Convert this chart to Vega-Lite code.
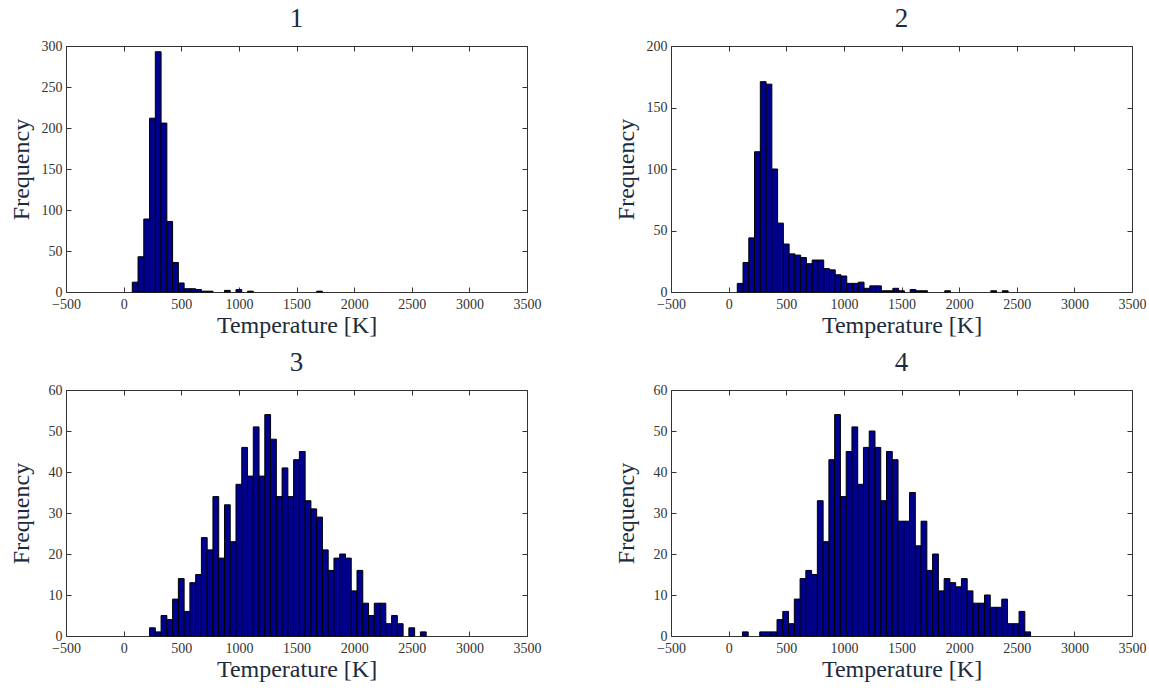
{
  "$schema": "https://vega.github.io/schema/vega-lite/v6.json",
  "background": "white",
  "padding": {"left": 9, "top": 5, "right": 5, "bottom": 5},
  "datasets": {
    "p1": [
      {"lo": 75, "hi": 125, "n": 12}, {"lo": 125, "hi": 175, "n": 43}, {"lo": 175, "hi": 225, "n": 89},
      {"lo": 225, "hi": 275, "n": 212}, {"lo": 275, "hi": 325, "n": 293}, {"lo": 325, "hi": 375, "n": 206},
      {"lo": 375, "hi": 425, "n": 86}, {"lo": 425, "hi": 475, "n": 36}, {"lo": 475, "hi": 525, "n": 11},
      {"lo": 525, "hi": 575, "n": 4}, {"lo": 575, "hi": 625, "n": 4}, {"lo": 625, "hi": 675, "n": 3},
      {"lo": 675, "hi": 725, "n": 1}, {"lo": 725, "hi": 775, "n": 1}, {"lo": 875, "hi": 925, "n": 2},
      {"lo": 975, "hi": 1025, "n": 3}, {"lo": 1075, "hi": 1125, "n": 1}, {"lo": 1675, "hi": 1725, "n": 1}
    ],
    "p2": [
      {"lo": 75, "hi": 125, "n": 7}, {"lo": 125, "hi": 175, "n": 24}, {"lo": 175, "hi": 225, "n": 44},
      {"lo": 225, "hi": 275, "n": 114}, {"lo": 275, "hi": 325, "n": 171}, {"lo": 325, "hi": 375, "n": 169},
      {"lo": 375, "hi": 425, "n": 100}, {"lo": 425, "hi": 475, "n": 56}, {"lo": 475, "hi": 525, "n": 39},
      {"lo": 525, "hi": 575, "n": 31}, {"lo": 575, "hi": 625, "n": 30}, {"lo": 625, "hi": 675, "n": 28},
      {"lo": 675, "hi": 725, "n": 23}, {"lo": 725, "hi": 775, "n": 26}, {"lo": 775, "hi": 825, "n": 26},
      {"lo": 825, "hi": 875, "n": 19}, {"lo": 875, "hi": 925, "n": 18}, {"lo": 925, "hi": 975, "n": 14},
      {"lo": 975, "hi": 1025, "n": 13}, {"lo": 1025, "hi": 1075, "n": 7}, {"lo": 1075, "hi": 1125, "n": 7},
      {"lo": 1125, "hi": 1175, "n": 8}, {"lo": 1175, "hi": 1225, "n": 3}, {"lo": 1225, "hi": 1275, "n": 5},
      {"lo": 1275, "hi": 1325, "n": 5}, {"lo": 1325, "hi": 1375, "n": 1}, {"lo": 1375, "hi": 1425, "n": 1},
      {"lo": 1425, "hi": 1475, "n": 3}, {"lo": 1475, "hi": 1525, "n": 1}, {"lo": 1575, "hi": 1625, "n": 2},
      {"lo": 1625, "hi": 1675, "n": 1}, {"lo": 1675, "hi": 1725, "n": 1}, {"lo": 1875, "hi": 1925, "n": 1},
      {"lo": 2275, "hi": 2325, "n": 1}, {"lo": 2375, "hi": 2425, "n": 1}
    ],
    "p3": [
      {"lo": 225, "hi": 275, "n": 2}, {"lo": 275, "hi": 325, "n": 1}, {"lo": 325, "hi": 375, "n": 5},
      {"lo": 375, "hi": 425, "n": 4}, {"lo": 425, "hi": 475, "n": 9}, {"lo": 475, "hi": 525, "n": 14},
      {"lo": 525, "hi": 575, "n": 6}, {"lo": 575, "hi": 625, "n": 13}, {"lo": 625, "hi": 675, "n": 15},
      {"lo": 675, "hi": 725, "n": 24}, {"lo": 725, "hi": 775, "n": 21}, {"lo": 775, "hi": 825, "n": 34},
      {"lo": 825, "hi": 875, "n": 19}, {"lo": 875, "hi": 925, "n": 32}, {"lo": 925, "hi": 975, "n": 23},
      {"lo": 975, "hi": 1025, "n": 37}, {"lo": 1025, "hi": 1075, "n": 46}, {"lo": 1075, "hi": 1125, "n": 39},
      {"lo": 1125, "hi": 1175, "n": 51}, {"lo": 1175, "hi": 1225, "n": 39}, {"lo": 1225, "hi": 1275, "n": 54},
      {"lo": 1275, "hi": 1325, "n": 48}, {"lo": 1325, "hi": 1375, "n": 34}, {"lo": 1375, "hi": 1425, "n": 41},
      {"lo": 1425, "hi": 1475, "n": 34}, {"lo": 1475, "hi": 1525, "n": 43}, {"lo": 1525, "hi": 1575, "n": 45},
      {"lo": 1575, "hi": 1625, "n": 33}, {"lo": 1625, "hi": 1675, "n": 31}, {"lo": 1675, "hi": 1725, "n": 29},
      {"lo": 1725, "hi": 1775, "n": 21}, {"lo": 1775, "hi": 1825, "n": 16}, {"lo": 1825, "hi": 1875, "n": 19},
      {"lo": 1875, "hi": 1925, "n": 20}, {"lo": 1925, "hi": 1975, "n": 19}, {"lo": 1975, "hi": 2025, "n": 11},
      {"lo": 2025, "hi": 2075, "n": 16}, {"lo": 2075, "hi": 2125, "n": 8}, {"lo": 2125, "hi": 2175, "n": 5},
      {"lo": 2175, "hi": 2225, "n": 8}, {"lo": 2225, "hi": 2275, "n": 8}, {"lo": 2275, "hi": 2325, "n": 3},
      {"lo": 2325, "hi": 2375, "n": 5}, {"lo": 2375, "hi": 2425, "n": 3}, {"lo": 2475, "hi": 2525, "n": 2},
      {"lo": 2575, "hi": 2625, "n": 1}
    ],
    "p4": [
      {"lo": 120, "hi": 170, "n": 1}, {"lo": 270, "hi": 320, "n": 1}, {"lo": 320, "hi": 370, "n": 1},
      {"lo": 370, "hi": 420, "n": 1}, {"lo": 420, "hi": 470, "n": 4}, {"lo": 470, "hi": 520, "n": 6},
      {"lo": 520, "hi": 570, "n": 3}, {"lo": 570, "hi": 620, "n": 9}, {"lo": 620, "hi": 670, "n": 14},
      {"lo": 670, "hi": 720, "n": 16}, {"lo": 720, "hi": 770, "n": 15}, {"lo": 770, "hi": 820, "n": 33},
      {"lo": 820, "hi": 870, "n": 23}, {"lo": 870, "hi": 920, "n": 43}, {"lo": 920, "hi": 970, "n": 54},
      {"lo": 970, "hi": 1020, "n": 34}, {"lo": 1020, "hi": 1070, "n": 45}, {"lo": 1070, "hi": 1120, "n": 51},
      {"lo": 1120, "hi": 1170, "n": 37}, {"lo": 1170, "hi": 1220, "n": 46}, {"lo": 1220, "hi": 1270, "n": 50},
      {"lo": 1270, "hi": 1320, "n": 46}, {"lo": 1320, "hi": 1370, "n": 33}, {"lo": 1370, "hi": 1420, "n": 45},
      {"lo": 1420, "hi": 1470, "n": 43}, {"lo": 1470, "hi": 1520, "n": 28}, {"lo": 1520, "hi": 1570, "n": 28},
      {"lo": 1570, "hi": 1620, "n": 35}, {"lo": 1620, "hi": 1670, "n": 22}, {"lo": 1670, "hi": 1720, "n": 28},
      {"lo": 1720, "hi": 1770, "n": 16}, {"lo": 1770, "hi": 1820, "n": 20}, {"lo": 1820, "hi": 1870, "n": 11},
      {"lo": 1870, "hi": 1920, "n": 14}, {"lo": 1920, "hi": 1970, "n": 13}, {"lo": 1970, "hi": 2020, "n": 12},
      {"lo": 2020, "hi": 2070, "n": 14}, {"lo": 2070, "hi": 2120, "n": 11}, {"lo": 2120, "hi": 2170, "n": 8},
      {"lo": 2170, "hi": 2220, "n": 8}, {"lo": 2220, "hi": 2270, "n": 10}, {"lo": 2270, "hi": 2320, "n": 7},
      {"lo": 2320, "hi": 2370, "n": 7}, {"lo": 2370, "hi": 2420, "n": 9}, {"lo": 2420, "hi": 2470, "n": 3},
      {"lo": 2470, "hi": 2520, "n": 3}, {"lo": 2520, "hi": 2570, "n": 6}, {"lo": 2570, "hi": 2620, "n": 1}
    ]
  },
  "columns": 2,
  "bounds": "flush",
  "spacing": {"row": 98, "column": 144},
  "concat": [
    {
      "title": "1", "width": 461, "height": 246, "data": {"name": "p1"},
      "resolve": {"axis": {"x": "independent", "y": "independent"}},
      "layer": [
        {"mark": {"type": "rect", "fill": "#00008F", "stroke": "#000000", "strokeWidth": 1},
         "encoding": {
           "x": {"field": "lo", "type": "quantitative", "scale": {"domain": [-500, 3500], "nice": false, "zero": false},
                 "axis": {"orient": "bottom", "values": [-500, 0, 500, 1000, 1500, 2000, 2500, 3000, 3500], "format": "d", "title": "Temperature [K]", "titleY": 40, "titleBaseline": "alphabetic"}},
           "x2": {"field": "hi"},
           "y": {"field": "n", "type": "quantitative", "scale": {"domain": [0, 300], "nice": false},
                 "axis": {"orient": "left", "values": [0, 50, 100, 150, 200, 250, 300], "format": "d", "title": "Frequency", "titleX": -45, "titleY": 123, "titleBaseline": "middle", "titleAlign": "center", "titleAngle": -90}},
           "y2": {"datum": 0}
         }},
        {"mark": {"type": "rect", "opacity": 0},
         "encoding": {
           "x": {"field": "lo", "type": "quantitative", "axis": {"orient": "top", "values": [-500, 0, 500, 1000, 1500, 2000, 2500, 3000, 3500], "labels": false, "title": null}},
           "x2": {"field": "hi"},
           "y": {"field": "n", "type": "quantitative", "axis": {"orient": "right", "values": [0, 50, 100, 150, 200, 250, 300], "labels": false, "title": null}},
           "y2": {"datum": 0}
         }}
      ]
    },
    {
      "title": "2", "width": 461, "height": 246, "data": {"name": "p2"},
      "resolve": {"axis": {"x": "independent", "y": "independent"}},
      "layer": [
        {"mark": {"type": "rect", "fill": "#00008F", "stroke": "#000000", "strokeWidth": 1},
         "encoding": {
           "x": {"field": "lo", "type": "quantitative", "scale": {"domain": [-500, 3500], "nice": false, "zero": false},
                 "axis": {"orient": "bottom", "values": [-500, 0, 500, 1000, 1500, 2000, 2500, 3000, 3500], "format": "d", "title": "Temperature [K]", "titleY": 40, "titleBaseline": "alphabetic"}},
           "x2": {"field": "hi"},
           "y": {"field": "n", "type": "quantitative", "scale": {"domain": [0, 200], "nice": false},
                 "axis": {"orient": "left", "values": [0, 50, 100, 150, 200], "format": "d", "title": "Frequency", "titleX": -45, "titleY": 123, "titleBaseline": "middle", "titleAlign": "center", "titleAngle": -90}},
           "y2": {"datum": 0}
         }},
        {"mark": {"type": "rect", "opacity": 0},
         "encoding": {
           "x": {"field": "lo", "type": "quantitative", "axis": {"orient": "top", "values": [-500, 0, 500, 1000, 1500, 2000, 2500, 3000, 3500], "labels": false, "title": null}},
           "x2": {"field": "hi"},
           "y": {"field": "n", "type": "quantitative", "axis": {"orient": "right", "values": [0, 50, 100, 150, 200], "labels": false, "title": null}},
           "y2": {"datum": 0}
         }}
      ]
    },
    {
      "title": "3", "width": 461, "height": 246, "data": {"name": "p3"},
      "resolve": {"axis": {"x": "independent", "y": "independent"}},
      "layer": [
        {"mark": {"type": "rect", "fill": "#00008F", "stroke": "#000000", "strokeWidth": 1},
         "encoding": {
           "x": {"field": "lo", "type": "quantitative", "scale": {"domain": [-500, 3500], "nice": false, "zero": false},
                 "axis": {"orient": "bottom", "values": [-500, 0, 500, 1000, 1500, 2000, 2500, 3000, 3500], "format": "d", "title": "Temperature [K]", "titleY": 40, "titleBaseline": "alphabetic"}},
           "x2": {"field": "hi"},
           "y": {"field": "n", "type": "quantitative", "scale": {"domain": [0, 60], "nice": false},
                 "axis": {"orient": "left", "values": [0, 10, 20, 30, 40, 50, 60], "format": "d", "title": "Frequency", "titleX": -45, "titleY": 123, "titleBaseline": "middle", "titleAlign": "center", "titleAngle": -90}},
           "y2": {"datum": 0}
         }},
        {"mark": {"type": "rect", "opacity": 0},
         "encoding": {
           "x": {"field": "lo", "type": "quantitative", "axis": {"orient": "top", "values": [-500, 0, 500, 1000, 1500, 2000, 2500, 3000, 3500], "labels": false, "title": null}},
           "x2": {"field": "hi"},
           "y": {"field": "n", "type": "quantitative", "axis": {"orient": "right", "values": [0, 10, 20, 30, 40, 50, 60], "labels": false, "title": null}},
           "y2": {"datum": 0}
         }}
      ]
    },
    {
      "title": "4", "width": 461, "height": 246, "data": {"name": "p4"},
      "resolve": {"axis": {"x": "independent", "y": "independent"}},
      "layer": [
        {"mark": {"type": "rect", "fill": "#00008F", "stroke": "#000000", "strokeWidth": 1},
         "encoding": {
           "x": {"field": "lo", "type": "quantitative", "scale": {"domain": [-500, 3500], "nice": false, "zero": false},
                 "axis": {"orient": "bottom", "values": [-500, 0, 500, 1000, 1500, 2000, 2500, 3000, 3500], "format": "d", "title": "Temperature [K]", "titleY": 40, "titleBaseline": "alphabetic"}},
           "x2": {"field": "hi"},
           "y": {"field": "n", "type": "quantitative", "scale": {"domain": [0, 60], "nice": false},
                 "axis": {"orient": "left", "values": [0, 10, 20, 30, 40, 50, 60], "format": "d", "title": "Frequency", "titleX": -45, "titleY": 123, "titleBaseline": "middle", "titleAlign": "center", "titleAngle": -90}},
           "y2": {"datum": 0}
         }},
        {"mark": {"type": "rect", "opacity": 0},
         "encoding": {
           "x": {"field": "lo", "type": "quantitative", "axis": {"orient": "top", "values": [-500, 0, 500, 1000, 1500, 2000, 2500, 3000, 3500], "labels": false, "title": null}},
           "x2": {"field": "hi"},
           "y": {"field": "n", "type": "quantitative", "axis": {"orient": "right", "values": [0, 10, 20, 30, 40, 50, 60], "labels": false, "title": null}},
           "y2": {"datum": 0}
         }}
      ]
    }
  ],
  "config": {
    "view": {"stroke": null},
    "axis": {
      "grid": false, "tickSize": -5, "tickColor": "#333333", "domainColor": "#333333",
      "labelFont": "Liberation Sans Narrow", "labelFontSize": 14, "labelColor": "#333333",
      "labelFlush": false, "labelOverlap": false,
      "titleFont": "Liberation Serif", "titleFontSize": 24, "titleFontWeight": "normal", "titleColor": "#1c2b3d"
    },
    "axisBottom": {"labelPadding": 10},
    "axisLeft": {"labelPadding": 9},
    "title": {"font": "Liberation Serif", "fontSize": 27, "fontWeight": "normal", "color": "#1c2b3d", "baseline": "alphabetic", "offset": 6, "anchor": "middle"}
  }
}
